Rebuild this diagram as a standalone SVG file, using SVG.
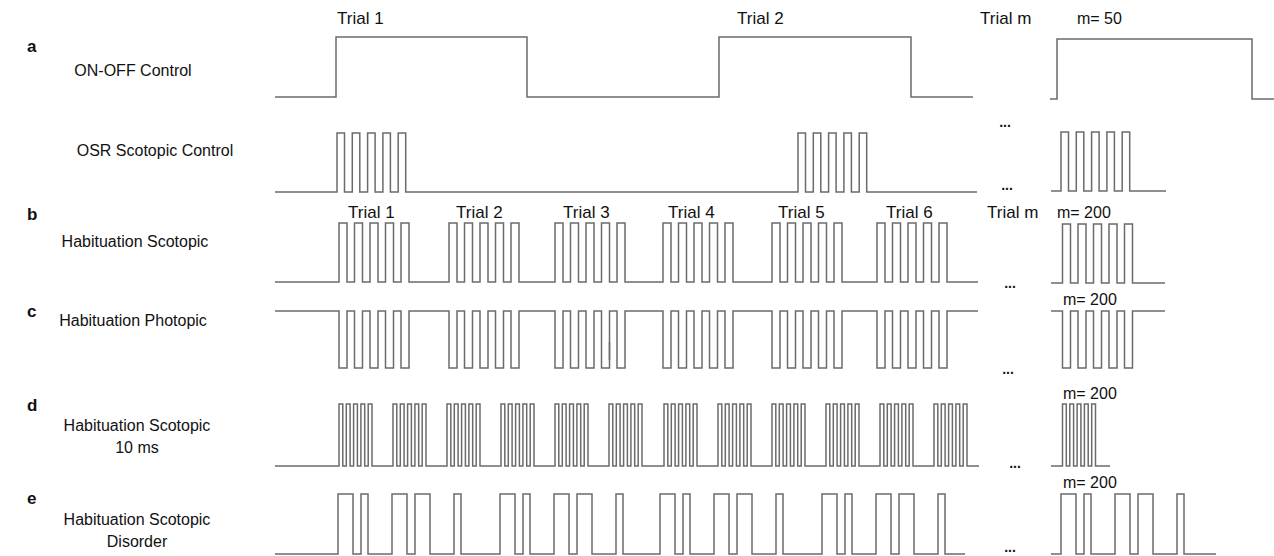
<svg xmlns="http://www.w3.org/2000/svg" width="1274" height="556" viewBox="0 0 1274 556">
<style>
.w{fill:none;stroke:#6b6b6b;stroke-width:1.5;stroke-linejoin:miter}
.t{font-family:"Liberation Sans",Arial,sans-serif;font-size:16px;fill:#111}
.tr{font-size:17px}
.c{text-anchor:middle}
.l{font-family:"Liberation Sans",Arial,sans-serif;font-size:17px;font-weight:bold;fill:#111}
.d{font-family:"Liberation Sans",Arial,sans-serif;font-size:14px;font-weight:bold;fill:#111;text-anchor:middle}
</style>
<rect width="1274" height="556" fill="#fff"/>
<g id="row-a">
<text class="l" x="27" y="52">a</text>
<text class="t c" x="133" y="76">ON-OFF Control</text>
<text class="t tr" x="337" y="24">Trial 1</text>
<text class="t tr" x="737" y="24">Trial 2</text>
<text class="t tr" x="980" y="24">Trial m</text>
<text class="t" x="1077" y="24">m= 50</text>
<path class="w" d="M275,97 H336 V37 H527 V97 H719 V37 H911 V97 H973"/>
<text class="d" x="1005" y="127">...</text>
<path class="w" d="M1050,99 H1057 V39 H1252 V99 H1274"/>
</g>
<g id="row-osr">
<text class="t c" x="155" y="156">OSR Scotopic Control</text>
<path class="w" d="M275,192 H337 v-59h7.5v59h7.8v-59h7.5v59h7.8v-59h7.5v59h7.8v-59h7.5v59h7.8v-59h7.5v59 H798 v-59h7.5v59h7.8v-59h7.5v59h7.8v-59h7.5v59h7.8v-59h7.5v59h7.8v-59h7.5v59 H977"/>
<text class="d" x="1007" y="190">...</text>
<path class="w" d="M1051,191 H1061 v-59h7.5v59h7.8v-59h7.5v59h7.8v-59h7.5v59h7.8v-59h7.5v59h7.8v-59h7.5v59 H1166"/>
</g>
<g id="row-b">
<text class="l" x="27" y="220">b</text>
<text class="t c" x="135" y="247">Habituation Scotopic</text>
<text class="t tr" x="348" y="218">Trial 1</text>
<text class="t tr" x="456" y="218">Trial 2</text>
<text class="t tr" x="563" y="218">Trial 3</text>
<text class="t tr" x="668" y="218">Trial 4</text>
<text class="t tr" x="778" y="218">Trial 5</text>
<text class="t tr" x="886" y="218">Trial 6</text>
<text class="t tr" x="987" y="218">Trial m</text>
<text class="t" x="1057" y="218">m= 200</text>
<path class="w" d="M275,282 H339 v-59h8v59h7.5v-59h8v59h7.5v-59h8v59h7.5v-59h8v59h7.5v-59h8v59 H449 v-59h8v59h7.5v-59h8v59h7.5v-59h8v59h7.5v-59h8v59h7.5v-59h8v59 H555 v-59h8v59h7.5v-59h8v59h7.5v-59h8v59h7.5v-59h8v59h7.5v-59h8v59 H663 v-59h8v59h7.5v-59h8v59h7.5v-59h8v59h7.5v-59h8v59h7.5v-59h8v59 H772 v-59h8v59h7.5v-59h8v59h7.5v-59h8v59h7.5v-59h8v59h7.5v-59h8v59 H877 v-59h8v59h7.5v-59h8v59h7.5v-59h8v59h7.5v-59h8v59h7.5v-59h8v59 H978"/>
<text class="d" x="1010" y="288">...</text>
<path class="w" d="M1051,283 H1062.5 v-59h8v59h7.5v-59h8v59h7.5v-59h8v59h7.5v-59h8v59h7.5v-59h8v59 H1165"/>
</g>
<g id="row-c">
<text class="l" x="27" y="317">c</text>
<text class="t c" x="133" y="326">Habituation Photopic</text>
<text class="t" x="1063" y="305">m= 200</text>
<path class="w" d="M275,311 H339 v57h8v-57h7.5v57h8v-57h7.5v57h8v-57h7.5v57h8v-57h7.5v57h8v-57 H449 v57h8v-57h7.5v57h8v-57h7.5v57h8v-57h7.5v57h8v-57h7.5v57h8v-57 H555 v57h8v-57h7.5v57h8v-57h7.5v57h8v-57h7.5v57h8v-57h7.5v57h8v-57 H663 v57h8v-57h7.5v57h8v-57h7.5v57h8v-57h7.5v57h8v-57h7.5v57h8v-57 H772 v57h8v-57h7.5v57h8v-57h7.5v57h8v-57h7.5v57h8v-57h7.5v57h8v-57 H877 v57h8v-57h7.5v57h8v-57h7.5v57h8v-57h7.5v57h8v-57h7.5v57h8v-57 H978"/>
<path class="w" d="M609.5,342 V360"/>
<text class="d" x="1008" y="374">...</text>
<path class="w" d="M1051,311 H1062.5 v57h8v-57h7.5v57h8v-57h7.5v57h8v-57h7.5v57h8v-57h7.5v57h8v-57 H1165"/>
</g>
<g id="row-d">
<text class="l" x="27" y="411">d</text>
<text class="t c" x="137" y="431">Habituation Scotopic</text>
<text class="t c" x="137" y="453">10 ms</text>
<text class="t" x="1063" y="399">m= 200</text>
<path class="w" d="M275,466 H339 v-62h3.8v62h3.5v-62h3.8v62h3.5v-62h3.8v62h3.5v-62h3.8v62h3.5v-62h3.8v62 H393 v-62h3.8v62h3.5v-62h3.8v62h3.5v-62h3.8v62h3.5v-62h3.8v62h3.5v-62h3.8v62 H447 v-62h3.8v62h3.5v-62h3.8v62h3.5v-62h3.8v62h3.5v-62h3.8v62h3.5v-62h3.8v62 H501 v-62h3.8v62h3.5v-62h3.8v62h3.5v-62h3.8v62h3.5v-62h3.8v62h3.5v-62h3.8v62 H555 v-62h3.8v62h3.5v-62h3.8v62h3.5v-62h3.8v62h3.5v-62h3.8v62h3.5v-62h3.8v62 H609 v-62h3.8v62h3.5v-62h3.8v62h3.5v-62h3.8v62h3.5v-62h3.8v62h3.5v-62h3.8v62 H664 v-62h3.8v62h3.5v-62h3.8v62h3.5v-62h3.8v62h3.5v-62h3.8v62h3.5v-62h3.8v62 H718 v-62h3.8v62h3.5v-62h3.8v62h3.5v-62h3.8v62h3.5v-62h3.8v62h3.5v-62h3.8v62 H772 v-62h3.8v62h3.5v-62h3.8v62h3.5v-62h3.8v62h3.5v-62h3.8v62h3.5v-62h3.8v62 H826 v-62h3.8v62h3.5v-62h3.8v62h3.5v-62h3.8v62h3.5v-62h3.8v62h3.5v-62h3.8v62 H880 v-62h3.8v62h3.5v-62h3.8v62h3.5v-62h3.8v62h3.5v-62h3.8v62h3.5v-62h3.8v62 H934 v-62h3.8v62h3.5v-62h3.8v62h3.5v-62h3.8v62h3.5v-62h3.8v62h3.5v-62h3.8v62 H979"/>
<text class="d" x="1015" y="468">...</text>
<path class="w" d="M1051,466 H1062.5 v-62h3.8v62h3.5v-62h3.8v62h3.5v-62h3.8v62h3.5v-62h3.8v62h3.5v-62h3.8v62 H1110"/>
</g>
<g id="row-e">
<text class="l" x="27" y="504">e</text>
<text class="t c" x="137" y="525">Habituation Scotopic</text>
<text class="t c" x="137" y="547">Disorder</text>
<text class="t" x="1063" y="488">m= 200</text>
<path class="w" d="M275,554 H338 v-60h15v60h8v-60h7v60h24v-60h15v60h8v-60h15v60h24v-60h7v60 H500 v-60h15v60h8v-60h7v60h24v-60h15v60h8v-60h15v60h24v-60h7v60 H660 v-60h15v60h8v-60h7v60h24v-60h15v60h8v-60h15v60h24v-60h7v60 H822 v-60h15v60h8v-60h7v60h24v-60h15v60h8v-60h15v60h24v-60h7v60 H965"/>
<text class="d" x="1010" y="552">...</text>
<path class="w" d="M1051,554 H1061 v-60h15v60h8v-60h7v60h24v-60h15v60h8v-60h15v60h24v-60h7v60 H1216"/>
</g>
</svg>
